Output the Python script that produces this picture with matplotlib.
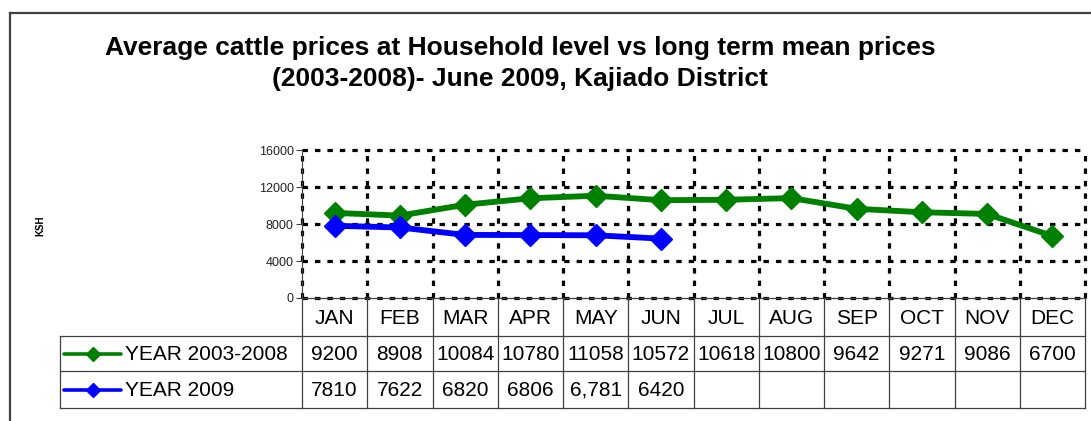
import matplotlib
matplotlib.use("Agg")
import matplotlib.pyplot as plt
import numpy as np

plt.rcParams['font.family'] = ['Liberation Sans', 'DejaVu Sans']

# ---- data ----
months = ["JAN", "FEB", "MAR", "APR", "MAY", "JUN", "JUL", "AUG", "SEP", "OCT", "NOV", "DEC"]
series_longterm_label = "YEAR 2003-2008"
series_2009_label = "YEAR 2009"
longterm = [9200, 8908, 10084, 10780, 11058, 10572, 10618, 10800, 9642, 9271, 9086, 6700]
year2009 = [7810, 7622, 6820, 6806, 6781, 6420]
longterm_text = ["9200", "8908", "10084", "10780", "11058", "10572", "10618", "10800", "9642", "9271", "9086", "6700"]
year2009_text = ["7810", "7622", "6820", "6806", "6,781", "6420"]
yticks = [0, 4000, 8000, 12000, 16000]
title_lines = ["Average cattle prices at Household level vs long term mean prices",
               "(2003-2008)- June 2009, Kajiado District"]
ylabel = "KSH"

GREEN = "#008000"
BLUE = "#0000FF"
FRAME = "#404040"

W, H = 1091, 421
DPI = 100
fig = plt.figure(figsize=(W / DPI, H / DPI), dpi=DPI)
fig.patch.set_facecolor("white")

def fx(x):
    return x / W

def fy(y):
    return 1 - y / H

# plot area in pixels
L, R, T, B = 302, 1085, 150, 298
ax = fig.add_axes([fx(L), fy(B), fx(R - L), (B - T) / H])
ax.set_xlim(-0.5, len(months) - 0.5)
ax.set_ylim(yticks[0], yticks[-1])

# grid
grid_kw = dict(color="black", lw=2.3, linestyle=(0, (1.7, 2.2)), clip_on=False, zorder=1)
for yv in yticks:
    ax.axhline(yv, **grid_kw)
for xv in np.arange(-0.5, len(months), 1.0):
    ax.axvline(xv, **grid_kw)

for s in ["top", "right", "bottom"]:
    ax.spines[s].set_visible(False)
ax.spines["left"].set_color(FRAME)
ax.spines["left"].set_linewidth(0.8)
ax.set_xticks([])
ax.set_yticks(yticks)
ax.set_yticklabels([str(v) for v in yticks], fontsize=9, color="#222222")
ax.tick_params(axis="y", length=4, width=0.8, color=FRAME, pad=2)

x_lt = np.arange(len(longterm))
x_09 = np.arange(len(year2009))
ax.plot(x_lt, longterm, color=GREEN, lw=4.2, marker="D", ms=11.5, zorder=3, clip_on=False)
ax.plot(x_09, year2009, color=BLUE, lw=4.2, marker="D", ms=11.5, zorder=4, clip_on=False)

# ---- table ----
tab = fig.add_axes([0, 0, 1, 1])
tab.set_xlim(0, W)
tab.set_ylim(H, 0)
tab.axis("off")
tab.patch.set_alpha(0)

col_w = (R - L) / len(months)
col_edges = [L + i * col_w for i in range(len(months) + 1)]
row_edges = [298, 336, 371, 408]
label_left = 60
line_kw = dict(color=FRAME, lw=0.9)

tab.plot([L, R], [row_edges[0]] * 2, **line_kw)
for ry in row_edges[1:]:
    tab.plot([label_left, R], [ry, ry], **line_kw)
tab.plot([label_left, label_left], [row_edges[1], row_edges[3]], **line_kw)
for cx in col_edges:
    tab.plot([cx, cx], [row_edges[0], row_edges[3]], **line_kw)

fs_tab = 15
rc = [(row_edges[i] + row_edges[i + 1]) / 2 for i in range(3)]
for i, m in enumerate(months):
    cx = col_edges[i] + col_w / 2
    tab.text(cx, rc[0] + 1, m, ha="center", va="center", fontsize=fs_tab)
for i, t in enumerate(longterm_text):
    cx = col_edges[i] + col_w / 2
    tab.text(cx, rc[1] + 1, t, ha="center", va="center", fontsize=fs_tab)
for i, t in enumerate(year2009_text):
    cx = col_edges[i] + col_w / 2
    tab.text(cx, rc[2] + 1, t, ha="center", va="center", fontsize=fs_tab)

# legend keys
for row_y, col, lab in [(rc[1], GREEN, series_longterm_label), (rc[2], BLUE, series_2009_label)]:
    tab.plot([64, 121], [row_y, row_y], color=col, lw=2.6, solid_capstyle="round")
    tab.plot([93], [row_y], color=col, marker="D", ms=7)
    tab.text(125, row_y + 1, lab, ha="left", va="center", fontsize=fs_tab)

# outer frame
tab.plot([10, W + 5], [13, 13], color=FRAME, lw=1.6, clip_on=False)
tab.plot([10, 10], [13, H + 5], color=FRAME, lw=1.6, clip_on=False)

# titles
fig.text(fx(520), fy(55), title_lines[0], ha="center", va="baseline",
         fontsize=19, fontweight="bold")
fig.text(fx(520), fy(86), title_lines[1], ha="center", va="baseline",
         fontsize=19, fontweight="bold")
fig.text(fx(40), fy(226), ylabel, ha="center", va="center", rotation=90,
         fontsize=7, fontweight="bold")

fig.savefig("out.png", dpi=DPI)
